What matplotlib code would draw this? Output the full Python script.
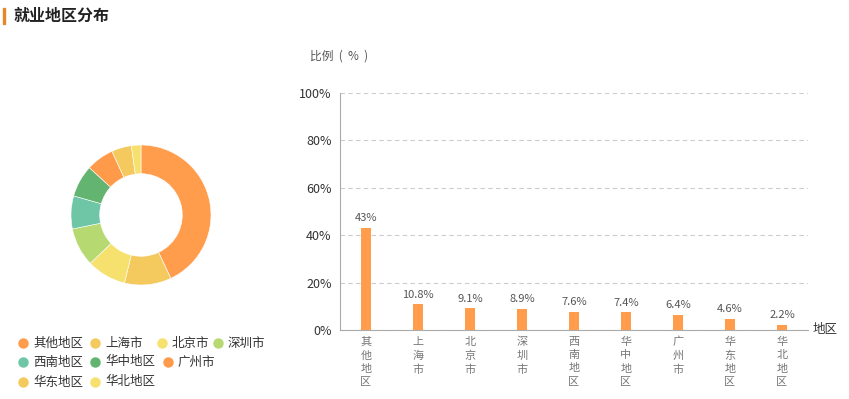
import numpy as np
import matplotlib.pyplot as plt

plt.rcParams['font.family'] = ['Noto Sans CJK SC', 'DejaVu Sans']

# ##### DATA ######
regions = ['其他地区', '上海市', '北京市', '深圳市', '西南地区', '华中地区', '广州市', '华东地区', '华北地区']
shares = [43, 10.8, 9.1, 8.9, 7.6, 7.4, 6.4, 4.6, 2.2]
share_labels = ['43%', '10.8%', '9.1%', '8.9%', '7.6%', '7.4%', '6.4%', '4.6%', '2.2%']
pie_colors = ['#ff9d4d', '#f4c95e', '#f7e16e', '#b6d972', '#6ec6a7', '#63b470', '#ff9a4a', '#f4c95e', '#f7e16e']
yticks = [0, 20, 40, 60, 80, 100]
#################

W, H = 849, 399
fig = plt.figure(figsize=(W / 100, H / 100), dpi=100)

# title with orange marker
fig.patches.append(plt.Rectangle((3 / W, 1 - 24 / H), 2 / W, 16 / H, transform=fig.transFigure,
                                 color='#e8872a', zorder=5))
fig.text(14 / W, 1 - 16 / H, '就业地区分布', fontsize=11.5, fontweight='bold', color='#222222',
         va='center', ha='left')

# donut
cx, cy, r = 141, 215, 70
ax_pie = fig.add_axes([(cx - r) / W, 1 - (cy + r) / H, 2 * r / W, 2 * r / H])
ax_pie.pie(shares, colors=pie_colors, startangle=90, counterclock=False, radius=1,
           wedgeprops=dict(width=0.41, edgecolor='white', linewidth=0.4))
ax_pie.set_aspect('equal')
ax_pie.set_xlim(-1, 1)
ax_pie.set_ylim(-1, 1)
ax_pie.axis('off')

# legend (flow layout, positions)
leg_pos = [(23, 343), (95, 343), (162, 343), (218, 343),
           (23, 362), (95, 362), (168, 362),
           (23, 382), (95, 382)]
ax_leg = fig.add_axes([0, 0, 1, 1], facecolor='none')
ax_leg.set_xlim(0, W)
ax_leg.set_ylim(H, 0)
ax_leg.axis('off')
for (lx, ly), name, col in zip(leg_pos, regions, pie_colors):
    ax_leg.plot(lx, ly, 'o', ms=7.5, color=col, mec='none')
    ax_leg.text(lx + 10, ly, name, fontsize=9, color='#333333', va='center', ha='left')

# bar chart
left, bottom, top, right = 340, 330, 93, 808
ax = fig.add_axes([left / W, 1 - bottom / H, (right - left) / W, (bottom - top) / H])
x = np.arange(len(regions))
ax.bar(x, shares, width=0.2, color='#ff9d4d', zorder=3)
for xi, v, lab in zip(x, shares, share_labels):
    ax.text(xi, v + 2.0, lab, ha='center', va='bottom', fontsize=8, color='#555555')
ax.set_xlim(-0.5, len(regions) - 0.5)
ax.set_ylim(0, 100)
ax.set_yticks(yticks)
ax.set_yticklabels([f'{t}%' for t in yticks], fontsize=9, color='#333333')
ax.set_xticks(x)
ax.set_xticklabels(['\n'.join(n) for n in regions], fontsize=8, color='#777777', va='top', linespacing=1.4)
ax.tick_params(axis='both', length=0, pad=5)
ax.tick_params(axis='y', pad=6)
ax.grid(axis='y', color='#cccccc', linestyle=(0, (4, 3)), linewidth=0.8, zorder=0)
for sp in ['top', 'right']:
    ax.spines[sp].set_visible(False)
ax.spines['left'].set_color('#aaaaaa')
ax.spines['bottom'].set_color('#aaaaaa')
ax.text(1.01, 0, '地区', transform=ax.transAxes, fontsize=9, color='#333333', va='center', ha='left')
fig.text(310 / W, 1 - 56 / H, '比例  (  %  )', fontsize=8.5, color='#555555', va='center', ha='left')

fig.savefig('out.png', dpi=100)
